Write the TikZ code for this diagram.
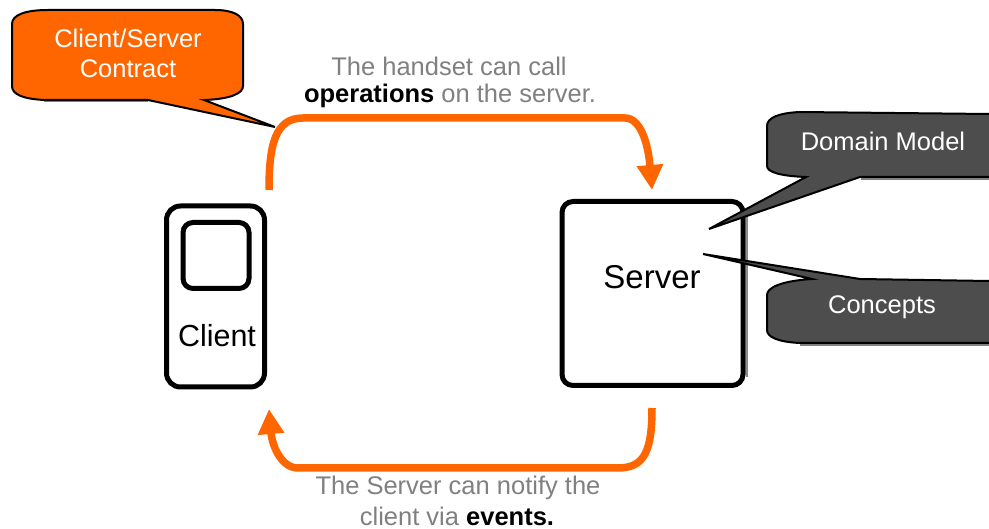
\documentclass[tikz,border=0pt]{standalone}
\usepackage{fontspec}
\setmainfont{Liberation Sans}
\usetikzlibrary{arrows.meta}
\definecolor{orng}{HTML}{FF6600}
\definecolor{dgray}{HTML}{4D4D4D}
\definecolor{lbl}{HTML}{808080}
\tikzset{x=1pt,y=-1pt,
 devbox/.style={draw=black,line width=5pt,rounded corners=14pt,fill=white,inner sep=0pt,outer sep=0pt,anchor=north west},
 flow/.style={draw=orng,line width=7.5pt,-{Triangle[length=25pt,width=25pt]}},
 shade line/.style={draw=black!50,line width=2pt},
 lab/.style={font=\fontsize{25.5}{31}\selectfont,text=lbl,align=center,inner sep=0pt},
 blab/.style={font=\fontsize{30.5}{35}\selectfont,text=black,inner sep=0pt},
 wlab/.style={font=\fontsize{25.5}{31}\selectfont,text=white,align=center,inner sep=0pt}}
\begin{document}
\begin{tikzpicture}
\useasboundingbox (0,0) rectangle (989,529);
% boxes
\draw[line width=2pt,black!45] (746.5,213) -- (746.5,377);
\node[devbox,minimum width=98pt,minimum height=181pt] (client) at (166.5,206) {};
\node[devbox,minimum width=66pt,minimum height=66pt,rounded corners=10pt] (screen) at (183,222.5) {};
\node[blab] (clientlab) at (217,336) {Client};
\node[devbox,minimum width=181pt,minimum height=184pt,rounded corners=11pt] (server) at (562,201.5) {};
\node[blab,font=\fontsize{33}{35}\selectfont] (serverlab) at (652,277) {Server};
% connectors
\coordinate (a1) at (269,190);
\coordinate (a2) at (652,190);
\coordinate (b1) at (652,408);
\coordinate (b2) at (269,409);
\draw[flow] (a1) .. controls (269,145) and (275,118) .. (303,118) -- (625,118) .. controls (640,118) and (648,142) .. (a2);
\draw[flow] (b1) .. controls (652,450) and (645,468) .. (618,468) -- (298,468) .. controls (281,468) and (272,445) .. (b2);
% labels
\node[lab] (top1) at (449,66) {The handset can call};
\node[lab] (top2) at (450,96) {\textcolor{black}{\textbf{operations}} on the server.};
\node[lab] (bot1) at (458,488) {The Server can notify the};
\node[lab] (bot2) at (457,516) {client via \textcolor{black}{\textbf{events.}}};
% orange callout
\draw[shade line] (44,101) -- (148,101);
\path[fill=orng,draw=black,line width=2pt] (48,10) -- (215,10)
 .. controls (232,10) and (243,15) .. (243,24) -- (243,86)
 .. controls (243,93) and (232,99) .. (204,100)
 -- (275,127) -- (148,100) -- (45,100)
 .. controls (22,99) and (12,94) .. (12,86) -- (12,24)
 .. controls (12,15) and (25,10) .. (48,10) -- cycle;
\node[wlab] (contract) at (128,53) {Client/Server\\[-1pt]Contract};
% dark callouts
\draw[shade line] (861,179) -- (989,179);
\path[fill=dgray,draw=black,line width=2pt] (989,114) -- (800,112)
 .. controls (778,113) and (767,118) .. (767,126) -- (767,166)
 .. controls (767,172) and (780,176) .. (806,177)
 -- (709,229) -- (860,177) -- (989,177) ;
\node[wlab] (domain) at (883,141) {Domain Model};
\draw[shade line] (800,345) -- (989,345);
\path[fill=dgray,draw=black,line width=2pt] (989,343) -- (800,343)
 .. controls (778,342) and (767,337) .. (767,330) -- (767,295)
 .. controls (767,288) and (780,281) .. (812,279)
 -- (703,254) -- (860,279) -- (989,281);
\node[wlab] (concepts) at (882,307) {Concepts};
\end{tikzpicture}
\end{document}
